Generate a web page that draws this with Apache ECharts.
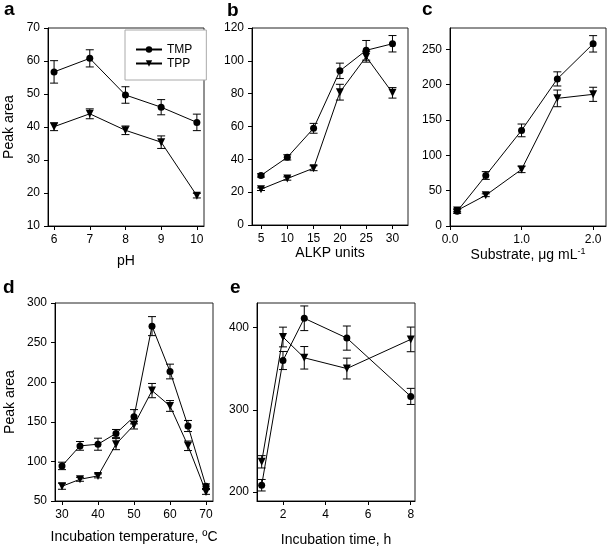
<!DOCTYPE html>
<html><head><meta charset="utf-8">
<script src="https://cdn.jsdelivr.net/npm/echarts@6/dist/echarts.min.js"></script>
<style>html,body{margin:0;padding:0;background:#fff}#c{width:609px;height:551px}</style>
</head><body><div id="c"></div>
<script>
// ---- data ----
const pH = [6, 7, 8, 9, 10];
const tmpA = [56.7, 60.8, 49.7, 46.0, 41.4];
const errTmpA = [3.4, 2.6, 2.5, 2.3, 2.5];
const tppA = [40.1, 44.0, 39.0, 35.4, 19.2];
const errTppA = [1.2, 1.5, 1.3, 1.9, 0.7];

const alkp = [5, 10, 15, 20, 25, 30];
const tmpB = [30.2, 41.2, 58.9, 93.9, 106.4, 110.4];
const errTmpB = [1.0, 1.6, 3.0, 4.7, 6.0, 5.0];
const tppB = [21.8, 28.3, 34.6, 80.9, 102.5, 80.5];
const errTppB = [0.8, 1.0, 1.5, 4.8, 3.3, 3.2];

const substrate = [0.1, 0.5, 1.0, 1.5, 2.0];
const tmpC = [20.8, 71.4, 135.2, 208.0, 257.6];
const errTmpC = [3.0, 5.5, 9.0, 10.0, 11.6];
const tppC = [22.0, 43.5, 80.0, 180.5, 186.2];
const errTppC = [2.0, 2.0, 4.5, 11.8, 10.0];

const temperature = [30, 35, 40, 45, 50, 55, 60, 65, 70];
const tmpD = [94.3, 119.6, 121.7, 135.3, 156.4, 270.8, 213.5, 144.7, 68.6];
const errTmpD = [4.7, 5.5, 7.6, 5.0, 9.0, 12.0, 9.3, 7.0, 3.0];
const tppD = [68.6, 77.4, 81.7, 121.8, 145.9, 189.4, 170.0, 119.7, 61.4];
const errTppD = [3.8, 2.5, 2.5, 7.0, 5.0, 9.0, 6.8, 6.0, 3.0];

const time = [1, 2, 3, 5, 8];
const tmpE = [208.2, 360.0, 411.4, 387.3, 316.3];
const errTmpE = [7.0, 11.0, 15.0, 14.7, 9.8];
const tppE = [236.7, 388.6, 363.3, 350.2, 385.7];
const errTppE = [7.5, 12.0, 13.7, 12.7, 15.0];

// tick labels
const xTicksA = [6, 7, 8, 9, 10];
const yTicksA = [10, 20, 30, 40, 50, 60, 70];
const xTicksB = [5, 10, 15, 20, 25, 30];
const yTicksB = [0, 20, 40, 60, 80, 100, 120];
const xTicksC = [0, 1, 2];
const yTicksC = [0, 50, 100, 150, 200, 250];
const xTicksD = [30, 40, 50, 60, 70];
const yTicksD = [50, 100, 150, 200, 250, 300];
const xTicksE = [2, 4, 6, 8];
const yTicksE = [200, 300, 400];

// ---- layout ----
const FONT = 'Liberation Sans, Arial, sans-serif';
const panels = [
  {grid: {left: 48, top: 28, width: 156, height: 198}, xr: [5.83, 10.2], yr: [10, 70],
   xt: xTicksA, yt: yTicksA, xfmt: v => String(v), xname: 'pH', xgap: 28, yname: 'Peak area', ygap: 32,
   x: pH, s1: tmpA, e1: errTmpA, s2: tppA, e2: errTppA},
  {grid: {left: 252, top: 28, width: 156, height: 197}, xr: [3.29, 32.95], yr: [0, 120],
   xt: xTicksB, yt: yTicksB, xfmt: v => String(v), xname: 'ALKP units', xgap: 20, yname: '', ygap: 30,
   x: alkp, s1: tmpB, e1: errTmpB, s2: tppB, e2: errTppB},
  {grid: {left: 450, top: 28, width: 156, height: 198}, xr: [0, 2.18], yr: [0, 280],
   xt: xTicksC, yt: yTicksC, xfmt: v => v.toFixed(1), xname: 'Substrate, \u03bcg mL{sup|-1}', xgap: 21, yname: '', ygap: 30,
   x: substrate, s1: tmpC, e1: errTmpC, s2: tppC, e2: errTppC},
  {grid: {left: 55, top: 303, width: 158, height: 198}, xr: [28.06, 71.94], yr: [50, 300],
   xt: xTicksD, yt: yTicksD, xfmt: v => String(v), xname: 'Incubation temperature, \u00baC', xgap: 29, yname: 'Peak area', ygap: 38,
   x: temperature, s1: tmpD, e1: errTmpD, s2: tppD, e2: errTppD},
  {grid: {left: 257, top: 303, width: 158, height: 198}, xr: [0.78, 8.2], yr: [189, 430],
   xt: xTicksE, yt: yTicksE, xfmt: v => String(v), xname: 'Incubation time, h', xgap: 32, yname: '', ygap: 30,
   x: time, s1: tmpE, e1: errTmpE, s2: tppE, e2: errTppE}
];

const grids = [], xAxes = [], yAxes = [], series = [];
const axisCommon = {
  axisLine: {show: true, lineStyle: {color: '#000', width: 1}},
  axisTick: {show: true, inside: false, length: 4, lineStyle: {color: '#000'}},
  splitLine: {show: false}
};

function errSeries(i, xs, ys, es) {
  const data = xs.map((x, k) => [x, ys[k] - es[k], ys[k] + es[k]]);
  return {
    type: 'custom', xAxisIndex: i, yAxisIndex: i, silent: true, z: 1,
    data: data,
    renderItem: function (params, api) {
      const lo = api.coord([api.value(0), api.value(1)]);
      const hi = api.coord([api.value(0), api.value(2)]);
      const w = 4;
      const st = {stroke: '#000', lineWidth: 1};
      return {type: 'group', children: [
        {type: 'line', shape: {x1: lo[0], y1: lo[1], x2: hi[0], y2: hi[1]}, style: st},
        {type: 'line', shape: {x1: lo[0] - w, y1: lo[1], x2: lo[0] + w, y2: lo[1]}, style: st},
        {type: 'line', shape: {x1: hi[0] - w, y1: hi[1], x2: hi[0] + w, y2: hi[1]}, style: st}
      ]};
    }
  };
}

panels.forEach((p, i) => {
  grids.push(Object.assign({show: true, borderColor: '#222', borderWidth: 1, backgroundColor: 'transparent'}, p.grid));
  xAxes.push(Object.assign({}, axisCommon, {
    type: 'value', gridIndex: i, min: p.xr[0], max: p.xr[1],
    axisTick: Object.assign({}, axisCommon.axisTick, {customValues: p.xt}),
    axisLabel: {customValues: p.xt, formatter: p.xfmt, color: '#000', fontSize: 12, fontFamily: FONT, margin: 8},
    name: p.xname, nameLocation: 'middle', nameGap: p.xgap,
    nameTextStyle: {color: '#000', fontSize: 14, fontFamily: FONT, verticalAlign: 'top',
      rich: {sup: {fontSize: 9, verticalAlign: 'bottom', padding: [0, 0, 7, 0], color: '#000', fontFamily: FONT}}}
  }));
  yAxes.push(Object.assign({}, axisCommon, {
    type: 'value', gridIndex: i, min: p.yr[0], max: p.yr[1],
    axisTick: Object.assign({}, axisCommon.axisTick, {customValues: p.yt}),
    axisLabel: {customValues: p.yt, color: '#000', fontSize: 12, fontFamily: FONT, margin: 8},
    name: p.yname, nameLocation: 'middle', nameGap: p.ygap,
    nameTextStyle: {color: '#000', fontSize: 14, fontFamily: FONT}
  }));
  series.push(errSeries(i, p.x, p.s1, p.e1));
  series.push(errSeries(i, p.x, p.s2, p.e2));
  series.push({
    name: 'TMP', type: 'line', xAxisIndex: i, yAxisIndex: i, z: 3,
    data: p.x.map((x, k) => [x, p.s1[k]]),
    symbol: 'circle', symbolSize: 7, showAllSymbol: true,
    lineStyle: {color: '#000', width: 1}, itemStyle: {color: '#000'}, emphasis: {disabled: true}
  });
  series.push({
    name: 'TPP', type: 'line', xAxisIndex: i, yAxisIndex: i, z: 3,
    data: p.x.map((x, k) => [x, p.s2[k]]),
    symbol: 'triangle', symbolRotate: 180, symbolSize: 8, showAllSymbol: true,
    lineStyle: {color: '#000', width: 1}, itemStyle: {color: '#000'}, emphasis: {disabled: true}
  });
});

const letters = [['a', 4, 18], ['b', 227, 19], ['c', 422, 18], ['d', 3, 296], ['e', 230, 296]];

const chart = echarts.init(document.getElementById('c'), null, {renderer: 'canvas'});
chart.setOption({
  animation: false,
  backgroundColor: '#fff',
  grid: grids, xAxis: xAxes, yAxis: yAxes, series: series,
  legend: {
    data: ['TMP', 'TPP'], orient: 'vertical', left: 125, top: 30,
    padding: [13, 14, 10, 10], itemGap: 1, itemWidth: 26, itemHeight: 8,
    borderColor: '#aaa', borderWidth: 1, backgroundColor: '#fff',
    textStyle: {color: '#000', fontSize: 12, lineHeight: 13, fontFamily: FONT}, selectedMode: false
  },
  graphic: letters.map(l => ({
    type: 'text', left: l[1], top: l[2] - 18, silent: true,
    style: {text: l[0], fill: '#000', font: 'bold 19px ' + FONT}
  }))
});
</script>
</body></html>
